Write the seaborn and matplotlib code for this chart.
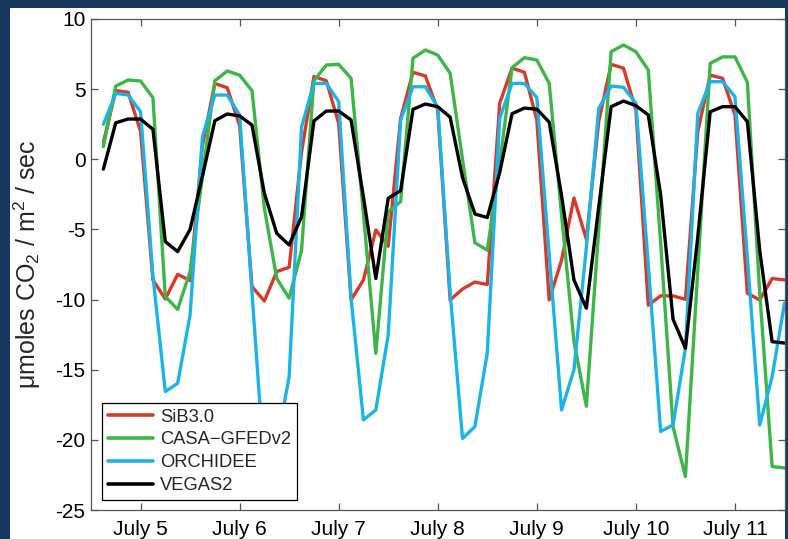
import numpy as np
import pandas as pd
import matplotlib
matplotlib.use('Agg')
import matplotlib.pyplot as plt
import seaborn as sns
from matplotlib.patches import Rectangle

# ---- data (3-hourly, July 4 15:00 .. July 11 12:00) ----
times = pd.date_range('2008-07-04 15:00', periods=56, freq='3h')

sib3 = [1.2, 4.9, 4.77, 2.0, -8.6, -9.96, -8.2, -8.65, 1.0, 5.4,
        5.1, 2.4, -9.08, -10.1, -8.0, -7.7, 0.5, 5.9, 5.6, 2.56,
        -10.03, -8.6, -5.04, -6.2, 2.9, 6.2, 5.94, 3.51, -10.03, -9.25,
        -8.75, -8.93, 3.99, 6.5, 6.2, 2.8, -10.03, -7.18, -2.76, -5.7,
        2.7, 6.77, 6.49, 3.5, -10.4, -9.73, -9.74, -9.98, 2.0, 6.0,
        5.77, 3.16, -9.55, -10.03, -8.5, -8.6]

casa = [0.9, 5.22, 5.65, 5.58, 4.39, -9.79, -10.7, -8.0, -1.2, 5.6,
        6.29, 6.0, 4.89, -3.5, -8.5, -9.9, -6.5, 5.6, 6.72, 6.77,
        5.77, -3.9, -13.83, -3.73, -3.02, 7.2, 7.79, 7.43, 6.13, 0.0,
        -5.95, -6.48, -0.3, 6.53, 7.24, 7.08, 5.41, -4.0, -13.0, -17.6,
        -5.0, 7.67, 8.15, 7.67, 6.36, -6.0, -19.06, -22.62, -7.9, 6.84,
        7.3, 7.3, 5.5, -9.5, -21.9, -22.0]

orchidee = [2.49, 4.7, 4.58, 3.4, -8.3, -16.56, -15.97, -11.1, 1.61, 4.58,
            4.58, 3.16, -9.5, -22.0, -20.3, -15.5, 2.3, 5.41, 5.41, 4.11,
            -9.9, -18.58, -17.87, -12.52, 2.8, 5.17, 5.17, 3.7, -9.5, -19.9,
            -19.06, -13.8, 2.92, 5.41, 5.41, 4.4, -6.8, -17.87, -15.0, -6.3,
            3.63, 5.22, 5.13, 3.99, -7.5, -19.4, -18.94, -13.47, 3.28, 5.53,
            5.53, 4.46, -7.0, -18.94, -15.5, -10.26]

vegas2 = [-0.7, 2.6, 2.87, 2.87, 2.14, -5.87, -6.58, -5.0, -1.2, 2.75,
          3.23, 3.09, 2.44, -2.43, -5.28, -6.11, -4.1, 2.73, 3.44, 3.44,
          2.8, -2.7, -8.5, -2.78, -2.24, 3.56, 3.94, 3.75, 3.0, -1.3,
          -3.9, -4.15, -0.95, 3.25, 3.65, 3.57, 2.65, -2.6, -8.6, -10.62,
          -3.4, 3.75, 4.15, 3.82, 3.16, -2.54, -11.4, -13.47, -5.5, 3.39,
          3.75, 3.75, 2.68, -6.5, -13.0, -13.1]

models = ['SiB3.0', 'CASA\u2212GFEDv2', 'ORCHIDEE', 'VEGAS2']
colors = ['#d63a2b', '#3db548', '#1cb4e8', '#000000']
tick_dates = pd.date_range('2008-07-05', periods=7, freq='D')
tick_labels = ['July 5', 'July 6', 'July 7', 'July 8', 'July 9', 'July 10', 'July 11']
yticks = [-25, -20, -15, -10, -5, 0, 5, 10]

# ---- style ----
sns.set_theme(style='ticks')
plt.rcParams['font.family'] = ['Liberation Sans', 'DejaVu Sans']
plt.rcParams['mathtext.fontset'] = 'custom'
plt.rcParams['mathtext.rm'] = 'Liberation Sans'
plt.rcParams['mathtext.it'] = 'Liberation Sans'
plt.rcParams['axes.unicode_minus'] = False

W, H = 788, 539
fig = plt.figure(figsize=(W / 100, H / 100), dpi=100)
fig.patch.set_facecolor('#17375e')
bg = Rectangle((10 / W, 0), (785 - 10) / W, (H - 8) / H,
               transform=fig.transFigure, facecolor='white',
               edgecolor='none', zorder=-10)
fig.add_artist(bg)

ax = fig.add_axes([91 / W, (H - 510) / H, (784.5 - 91) / W, (510 - 19) / H])
ax.set_zorder(5)

df = pd.DataFrame({
    'time': np.tile(times, 4),
    'value': np.concatenate([sib3, casa, orchidee, vegas2]),
    'model': np.repeat(models, len(times)),
})

sns.lineplot(data=df, x='time', y='value', hue='model', hue_order=models,
             palette=dict(zip(models, colors)), linewidth=2.4, ax=ax)

ax.set_xlim(pd.Timestamp('2008-07-04 12:00'), pd.Timestamp('2008-07-11 12:00'))
ax.set_ylim(-25, 10)
ax.set_xticks(tick_dates)
ax.set_xticklabels(tick_labels)
ax.set_yticks(yticks)
ax.set_xlabel('')
ax.set_ylabel('\u03bcmoles CO$_2$ / m$^2$ / sec', fontsize=18, labelpad=9)

for s in ax.spines.values():
    s.set_visible(True)
    s.set_color('#555555')
    s.set_linewidth(0.9)
ax.tick_params(direction='in', length=5, width=0.9, color='#555555',
               top=True, right=True, labelsize=15, labelcolor='black')
ax.tick_params(axis='x', pad=7)
ax.tick_params(axis='y', pad=4)

leg = ax.legend(loc='lower left', bbox_to_anchor=(0.0154, 0.0204), borderaxespad=0,
                fontsize=13.2, handlelength=2.5, handletextpad=0.35,
                borderpad=0.32, labelspacing=0.32, fancybox=False,
                framealpha=1, edgecolor='black')
leg.get_frame().set_linewidth(0.9)
for h in leg.get_lines():
    h.set_linewidth(2.6)

fig.savefig('out.png', dpi=100, facecolor=fig.get_facecolor())
